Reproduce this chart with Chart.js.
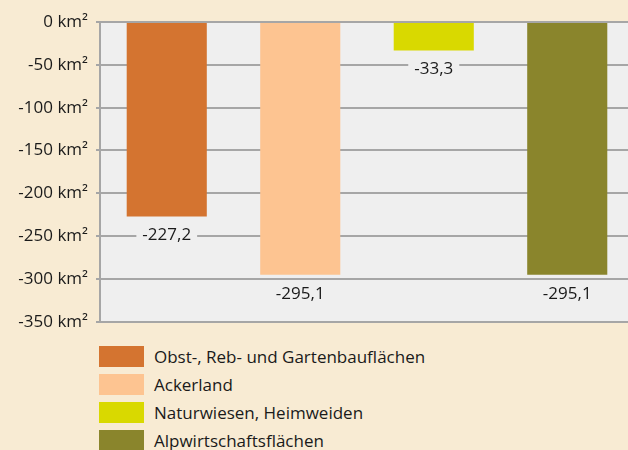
<!DOCTYPE html>
<html>
<head>
<meta charset="utf-8">
<script src="https://cdn.jsdelivr.net/npm/chart.js@4"></script>
<style>
  html, body { margin: 0; padding: 0; background: #f8ebd3; overflow: hidden; width: 628px; height: 450px; }
  #wrap { position: absolute; left: 0; top: 0; width: 634px; height: 340px; }
  #legend { position: absolute; left: 99px; top: 346px; font-family: "Open Sans", sans-serif; font-size: 17px; color: #1a1a1a; }
  .row { height: 28px; display: flex; align-items: flex-start; }
  .box { width: 45px; height: 21px; margin-right: 10px; }
  .row span { line-height: 21px; }
</style>
</head>
<body>
<div id="wrap"><canvas id="chart" width="634" height="340"></canvas></div>
<div id="legend"></div>
<script>
// Daten
const categories = ['Obst-, Reb- und Gartenbauflächen', 'Ackerland', 'Naturwiesen, Heimweiden', 'Alpwirtschaftsflächen'];
const values = [-227.2, -295.1, -33.3, -295.1];
const valueLabels = ['-227,2', '-295,1', '-33,3', '-295,1'];
const colors = ['#d47430', '#fdc491', '#d9d900', '#8a852c'];

const FONT = '"Open Sans", sans-serif';
const plotBg = '#efefef';
const gridColor = '#a6a6a6';

// Hintergrund der Zeichenfläche
const plotBackground = {
    id: 'plotBackground',
    beforeDraw(chart) {
        const { ctx, chartArea: a } = chart;
        ctx.save();
        ctx.fillStyle = plotBg;
        ctx.fillRect(a.left, a.top, a.right - a.left, a.bottom - a.top);
        ctx.restore();
    }
};

// Wertbeschriftung unter den Balken
const valueTags = {
    id: 'valueTags',
    afterDatasetsDraw(chart) {
        const { ctx } = chart;
        const meta = chart.getDatasetMeta(0);
        ctx.save();
        ctx.font = '17px ' + FONT;
        ctx.textAlign = 'center';
        ctx.textBaseline = 'middle';
        meta.data.forEach((bar, i) => {
            const txt = valueLabels[i];
            const y = bar.y + 19;
            const w = ctx.measureText(txt).width + 12;
            ctx.fillStyle = plotBg;
            ctx.fillRect(bar.x - w / 2, y - 9, w, 18);
            ctx.fillStyle = '#1a1a1a';
            ctx.fillText(txt, bar.x, y);
        });
        ctx.restore();
    }
};

new Chart(document.getElementById('chart'), {
    type: 'bar',
    data: {
        labels: categories,
        datasets: [{
            data: values,
            backgroundColor: colors,
            borderWidth: 0,
            categoryPercentage: 1,
            barPercentage: 0.6
        }]
    },
    options: {
        responsive: false,
        animation: false,
        layout: { padding: { top: 22, bottom: 16, left: 0, right: 0 } },
        plugins: {
            legend: { display: false },
            tooltip: { enabled: false }
        },
        scales: {
            x: {
                ticks: { display: false },
                grid: { display: false },
                border: { display: true, color: gridColor, width: 2 },
                afterFit: s => { s.height = 0; }
            },
            y: {
                min: -350,
                max: 0,
                ticks: {
                    stepSize: 50,
                    padding: 8,
                    color: '#1a1a1a',
                    font: { family: FONT, size: 17 },
                    callback: v => v + ' km²'
                },
                grid: { color: gridColor, lineWidth: 2, tickLength: 4 },
                border: { color: gridColor, width: 2 },
                afterFit: s => { s.width = 100; }
            }
        }
    },
    plugins: [plotBackground, valueTags]
});

// Legende
const legend = document.getElementById('legend');
categories.forEach((c, i) => {
    const row = document.createElement('div');
    row.className = 'row';
    const box = document.createElement('div');
    box.className = 'box';
    box.style.background = colors[i];
    const t = document.createElement('span');
    t.textContent = c;
    row.appendChild(box);
    row.appendChild(t);
    legend.appendChild(row);
});
</script>
</body>
</html>
